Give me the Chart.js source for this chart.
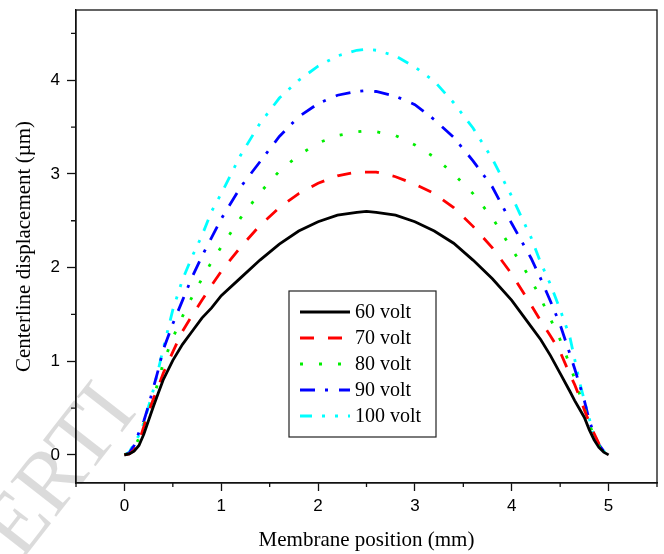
<!DOCTYPE html>
<html>
<head>
<meta charset="utf-8">
<script src="https://cdn.jsdelivr.net/npm/chart.js@4.4.0/dist/chart.umd.min.js"></script>
<style>
  body { margin: 0; background: #fff; }
  canvas { display: block; }
</style>
</head>
<body>
<canvas id="myChart" width="664" height="554"></canvas>
<script>
// membrane position (mm)
const xPos = [0, 0.05, 0.1, 0.15, 0.2, 0.25, 0.3, 0.35, 0.4, 0.5, 0.6, 0.7, 0.8, 0.9, 1.0,
  1.2, 1.4, 1.6, 1.8, 2.0, 2.2, 2.4, 2.5, 2.6, 2.8, 3.0, 3.2, 3.4, 3.6, 3.8, 4.0,
  4.2, 4.3, 4.4, 4.5, 4.6, 4.65, 4.7, 4.75, 4.8, 4.85, 4.9, 4.95, 5.0];

// centerline displacement (um)
const v60 = [0, 0.01, 0.04, 0.10, 0.22, 0.37, 0.52, 0.66, 0.80, 1.01, 1.18, 1.32, 1.46, 1.57, 1.70,
  1.89, 2.08, 2.25, 2.39, 2.49, 2.56, 2.59, 2.60, 2.59, 2.56, 2.49, 2.39, 2.26, 2.08, 1.88, 1.65,
  1.37, 1.23, 1.06, 0.87, 0.68, 0.58, 0.49, 0.40, 0.27, 0.16, 0.08, 0.03, 0];
const v70 = [0, 0.01, 0.05, 0.14, 0.30, 0.46, 0.60, 0.73, 0.87, 1.10, 1.32, 1.49, 1.65, 1.81, 1.96,
  2.22, 2.45, 2.64, 2.79, 2.90, 2.98, 3.02, 3.02, 3.02, 2.97, 2.89, 2.79, 2.64, 2.44, 2.21, 1.93,
  1.60, 1.43, 1.27, 1.10, 0.86, 0.75, 0.62, 0.48, 0.35, 0.23, 0.12, 0.04, 0];
const v80 = [0, 0.02, 0.07, 0.18, 0.32, 0.47, 0.62, 0.78, 0.98, 1.25, 1.48, 1.69, 1.88, 2.06, 2.22,
  2.53, 2.80, 3.03, 3.20, 3.33, 3.41, 3.45, 3.46, 3.45, 3.41, 3.31, 3.18, 3.00, 2.79, 2.53, 2.20,
  1.87, 1.67, 1.45, 1.23, 0.96, 0.81, 0.65, 0.50, 0.33, 0.20, 0.10, 0.03, 0];
const v90 = [0, 0.02, 0.10, 0.24, 0.36, 0.53, 0.72, 0.91, 1.12, 1.40, 1.65, 1.90, 2.12, 2.32, 2.52,
  2.86, 3.13, 3.40, 3.61, 3.75, 3.84, 3.88, 3.89, 3.88, 3.83, 3.74, 3.58, 3.39, 3.14, 2.86, 2.47,
  2.10, 1.88, 1.64, 1.39, 1.08, 0.92, 0.75, 0.58, 0.37, 0.22, 0.11, 0.04, 0];
const v100 = [0, 0.03, 0.12, 0.21, 0.34, 0.52, 0.70, 0.91, 1.13, 1.55, 1.87, 2.12, 2.34, 2.60, 2.79,
  3.20, 3.54, 3.81, 4.00, 4.15, 4.26, 4.32, 4.33, 4.32, 4.26, 4.14, 3.99, 3.76, 3.49, 3.16, 2.76,
  2.32, 2.05, 1.82, 1.55, 1.26, 1.02, 0.78, 0.58, 0.39, 0.20, 0.10, 0.04, 0];

const seriesLabels = ['60 volt', '70 volt', '80 volt', '90 volt', '100 volt'];

const pts = ys => xPos.map((x, i) => ({ x: x, y: ys[i] }));
const isWhole = v => Math.abs(v - Math.round(v)) < 1e-6;

// faint watermark in the lower left corner
const watermark = {
  id: 'watermark',
  beforeDraw(chart) {
    const ctx = chart.ctx;
    ctx.save();
    ctx.translate(40, 500);
    ctx.rotate(-52 * Math.PI / 180);
    ctx.font = '88px "Liberation Serif"';
    ctx.fillStyle = 'rgba(0,0,0,0.14)';
    ctx.textBaseline = 'middle';
    ctx.fillText('ERTI', -60, 0);
    ctx.restore();
  }
};

// box around plot + short minor ticks
const frameTicks = {
  id: 'frameTicks',
  afterDraw(chart) {
    const { ctx, chartArea, scales } = chart;
    ctx.save();
    ctx.strokeStyle = '#111';
    ctx.lineWidth = 1.3;
    ctx.strokeRect(chartArea.left, chartArea.top, chartArea.right - chartArea.left, chartArea.bottom - chartArea.top);
    ctx.beginPath();
    scales.x.ticks.forEach(t => {
      if (isWhole(t.value)) return;
      const px = scales.x.getPixelForValue(t.value);
      ctx.moveTo(px, chartArea.bottom);
      ctx.lineTo(px, chartArea.bottom + 4);
    });
    scales.y.ticks.forEach(t => {
      if (isWhole(t.value)) return;
      const py = scales.y.getPixelForValue(t.value);
      ctx.moveTo(chartArea.left - 5, py);
      ctx.lineTo(chartArea.left, py);
    });
    ctx.stroke();
    ctx.restore();
  }
};

// legend drawn inside the plot
const insideLegend = {
  id: 'insideLegend',
  afterDraw(chart) {
    const { ctx, chartArea } = chart;
    const left = chartArea.left + 213, top = chartArea.top + 281;
    ctx.save();
    ctx.fillStyle = '#fff';
    ctx.fillRect(left, top, 147, 146);
    ctx.strokeStyle = '#222';
    ctx.lineWidth = 1.2;
    ctx.strokeRect(left, top, 147, 146);
    ctx.font = '20px "Liberation Serif"';
    ctx.textBaseline = 'middle';
    chart.data.datasets.forEach((ds, i) => {
      const y = top + 21 + i * 26;
      ctx.setLineDash(ds.borderDash || []);
      ctx.strokeStyle = ds.borderColor;
      ctx.lineWidth = ds.borderWidth;
      ctx.beginPath();
      ctx.moveTo(left + 11, y);
      ctx.lineTo(left + 61, y);
      ctx.stroke();
      ctx.setLineDash([]);
      ctx.fillStyle = '#000';
      ctx.fillText(ds.label, left + 66, y + 1);
    });
    ctx.restore();
  }
};

const line = (label, ys, color, dash) => ({
  label: label,
  data: pts(ys),
  borderColor: color,
  borderWidth: 2.8,
  borderDash: dash,
  borderCapStyle: 'butt',
  pointRadius: 0,
  fill: false,
  tension: 0
});

const tickFont = { family: '"Liberation Sans", Arial, sans-serif', size: 17 };
const titleFont = { family: '"Liberation Serif", "Times New Roman", serif', size: 21 };

new Chart(document.getElementById('myChart'), {
  type: 'line',
  data: {
    datasets: [
      line(seriesLabels[0], v60, '#000000', []),
      line(seriesLabels[1], v70, '#ff0000', [14, 14]),
      line(seriesLabels[2], v80, '#00ee00', [3, 16]),
      line(seriesLabels[3], v90, '#0000ff', [15, 10, 3, 11]),
      line(seriesLabels[4], v100, '#00ffff', [12, 10, 3, 10, 3, 10])
    ]
  },
  options: {
    responsive: false,
    animation: false,
    devicePixelRatio: 1,
    layout: { padding: { top: 10, right: 7, left: 0, bottom: 0 } },
    plugins: {
      legend: { display: false },
      tooltip: { enabled: false }
    },
    scales: {
      x: {
        type: 'linear',
        min: -0.5,
        max: 5.5,
        afterFit: s => { s.height = 71; s.paddingLeft = 0; s.paddingRight = 0; },
        ticks: {
          stepSize: 0.5,
          includeBounds: false,
          autoSkip: false,
          maxRotation: 0,
          padding: 5,
          color: '#000',
          font: tickFont,
          callback: v => isWhole(v) ? String(Math.round(v)) : ''
        },
        grid: {
          drawOnChartArea: false,
          tickLength: 8,
          tickWidth: 1.3,
          tickColor: c => (c.tick && isWhole(c.tick.value)) ? '#111' : 'rgba(0,0,0,0)'
        },
        border: { display: true, color: '#111', width: 1.3 },
        title: {
          display: true,
          text: 'Membrane position (mm)',
          color: '#000',
          font: titleFont,
          padding: { top: 0, bottom: 1 }
        }
      },
      y: {
        type: 'linear',
        min: -0.3,
        max: 4.75,
        afterFit: s => { s.width = 76; s.paddingTop = 0; s.paddingBottom = 0; },
        ticks: {
          stepSize: 0.5,
          includeBounds: false,
          autoSkip: false,
          padding: 7,
          color: '#000',
          font: tickFont,
          callback: v => isWhole(v) ? String(Math.round(v)) : ''
        },
        grid: {
          drawOnChartArea: false,
          tickLength: 9,
          tickWidth: 1.3,
          tickColor: c => (c.tick && isWhole(c.tick.value)) ? '#111' : 'rgba(0,0,0,0)'
        },
        border: { display: true, color: '#111', width: 1.3 },
        title: {
          display: true,
          text: 'Centerline displacement (\u00b5m)',
          color: '#000',
          font: titleFont,
          padding: { top: 12, bottom: 0 }
        }
      }
    }
  },
  plugins: [watermark, frameTicks, insideLegend]
});
</script>
</body>
</html>
